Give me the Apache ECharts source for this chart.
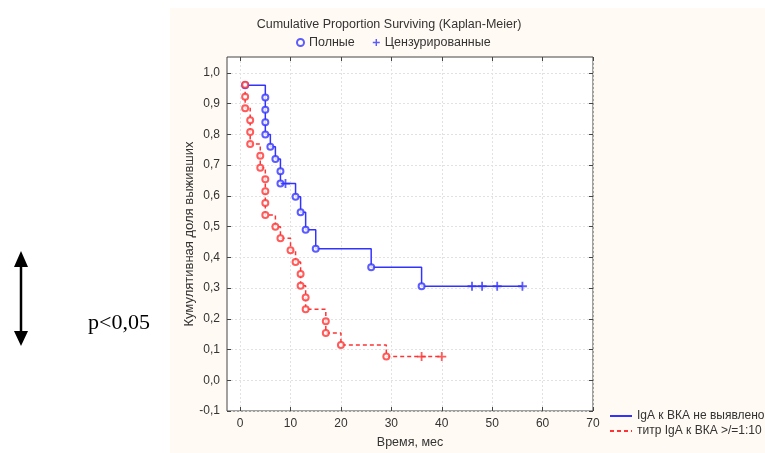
<!DOCTYPE html>
<html>
<head>
<meta charset="utf-8">
<title>Kaplan-Meier</title>
<script src="https://cdn.jsdelivr.net/npm/echarts@6/dist/echarts.min.js"></script>
<style>
    html, body { margin: 0; padding: 0; background: #fff; }
    #chart { width: 765px; height: 453px; }
</style>
</head>
<body>
<div id="chart"></div>
<script>
// группа 1: IgA к ВКА не выявлено (события и цензурированные)
const blueTimes = [1, 5, 5, 5, 5, 6, 7, 8, 8, 11, 12, 13, 15, 26, 36];
const blueSurv = [0.96, 0.92, 0.88, 0.84, 0.80, 0.76, 0.72, 0.68, 0.64, 0.597, 0.547, 0.49, 0.428, 0.368, 0.306];
const blueCensTimes = [9, 46, 48, 51, 56];
const blueCensSurv = [0.64, 0.306, 0.306, 0.306, 0.306];

// группа 2: титр IgA к ВКА >/=1:10
const redTimes = [1, 1, 1, 2, 2, 2, 4, 4, 5, 5, 5, 5, 7, 8, 10, 11, 12, 12, 13, 13, 17, 17, 20, 29];
const redSurv = [0.962, 0.923, 0.885, 0.846, 0.808, 0.769, 0.731, 0.692, 0.654, 0.615, 0.577, 0.538,
    0.5, 0.462, 0.423, 0.385, 0.346, 0.308, 0.269, 0.231, 0.192, 0.154, 0.115, 0.077];
const redCensTimes = [36, 40];
const redCensSurv = [0.077, 0.077];

// подписи осей
const xTicks = [0, 10, 20, 30, 40, 50, 60, 70];
const yTicks = [-0.1, 0, 0.1, 0.2, 0.3, 0.4, 0.5, 0.6, 0.7, 0.8, 0.9, 1.0];

const seriesNames = ['IgA к ВКА не выявлено', 'титр IgA к ВКА >/=1:10'];

const BLUE = '#3333ff';
const RED = '#ff3333';
const TEXT = '#333';
const FONT = 'Liberation Sans, Arial, sans-serif';
const PLUS = 'path://M4,0h2v4h4v2h-4v4h-2v-4h-4v-2h4z';

function pairs(xs, ys) {
    return xs.map((x, i) => [x, ys[i]]);
}

// ступенчатая линия: события + цензурированные по времени
function stepData(times, surv, censTimes, censSurv) {
    const pts = pairs(times, surv).concat(pairs(censTimes, censSurv));
    return pts
        .map((p, i) => ({ p: p, i: i }))
        .sort((a, b) => a.p[0] - b.p[0] || a.i - b.i)
        .map(o => o.p);
}

// деления внутрь, как в Statistica
function innerTicks(values) {
    return { show: true, inside: true, length: 4, customValues: values, lineStyle: { color: '#444' } };
}

function initializeChart() {
    const chartDom = document.getElementById('chart');
    const chart = echarts.init(chartDom, null, { renderer: 'canvas' });

    const gridLeft = 227, gridTop = 57, gridW = 366, gridH = 354;
    const gridLine = { show: true, lineStyle: { color: '#e2e2e2', type: [2, 2] } };

    const option = {
        animation: false,
        textStyle: { fontFamily: FONT },
        graphic: [
            {
                type: 'rect', z: -10, silent: true,
                shape: { x: 170, y: 8, width: 595, height: 445 },
                style: { fill: '#fffaf3' }
            },
            {
                type: 'text', x: 389, y: 25,
                style: { text: 'Cumulative Proportion Surviving (Kaplan-Meier)', fill: TEXT, font: '12.5px ' + FONT, align: 'center', verticalAlign: 'middle' }
            },
            {
                type: 'text', rotation: Math.PI / 2,
                x: 189, y: 234,
                style: { text: 'Кумулятивная доля выживших', fill: TEXT, font: '13px ' + FONT, align: 'center', verticalAlign: 'middle' }
            },
            {
                type: 'text', x: 410, y: 443,
                style: { text: 'Время, мес', fill: TEXT, font: '12.5px ' + FONT, align: 'center', verticalAlign: 'middle' }
            },
            // двусторонняя стрелка и подпись p
            {
                type: 'line',
                shape: { x1: 21, y1: 262, x2: 21, y2: 336 },
                style: { stroke: '#000', lineWidth: 2.5 }
            },
            {
                type: 'polygon',
                shape: { points: [[21, 251], [14, 267], [28, 267]] },
                style: { fill: '#000' }
            },
            {
                type: 'polygon',
                shape: { points: [[21, 346], [14, 331], [28, 331]] },
                style: { fill: '#000' }
            },
            {
                type: 'text', x: 88, y: 323,
                style: { text: 'p<0,05', fill: '#000', font: '22px Liberation Serif, Times New Roman, serif', verticalAlign: 'middle' }
            }
        ],
        legend: [
            {
                data: ['Полные', 'Цензурированные'],
                left: 291, top: 31,
                itemWidth: 7, itemHeight: 7, itemGap: 18,
                textStyle: { color: TEXT, fontSize: 12.5, fontFamily: FONT },
                selectedMode: false
            },
            {
                data: seriesNames,
                orient: 'vertical',
                left: 604, top: 405,
                itemWidth: 22, itemHeight: 10, itemGap: 3,
                itemStyle: { opacity: 0 },
                textStyle: { color: TEXT, fontSize: 12, fontFamily: FONT },
                selectedMode: false
            }
        ],
        grid: {
            left: gridLeft, top: gridTop, width: gridW, height: gridH,
            show: true, backgroundColor: '#fff', borderColor: '#444', borderWidth: 1
        },
        xAxis: [
            {
                type: 'value', min: -2.6, max: 70,
                axisLine: { show: false, onZero: false },
                axisTick: innerTicks(xTicks),
                axisLabel: { customValues: xTicks, color: TEXT, fontSize: 12, margin: 7 },
                splitLine: gridLine
            },
            {
                type: 'value', position: 'top', min: -2.6, max: 70,
                axisLine: { show: false, onZero: false },
                axisTick: innerTicks(xTicks),
                axisLabel: { show: false },
                splitLine: { show: false }
            }
        ],
        yAxis: [
            {
                type: 'value', min: -0.1, max: 1.052,
                axisLine: { show: false, onZero: false },
                axisTick: innerTicks(yTicks),
                axisLabel: {
                    customValues: yTicks, color: TEXT, fontSize: 12, margin: 7,
                    formatter: v => v.toFixed(1).replace('.', ',')
                },
                splitLine: gridLine
            },
            {
                type: 'value', position: 'right', min: -0.1, max: 1.052,
                axisLine: { show: false, onZero: false },
                axisTick: innerTicks(yTicks),
                axisLabel: { show: false },
                splitLine: { show: false }
            }
        ],
        series: [
            {
                name: seriesNames[0], type: 'line', step: 'end', symbol: 'none',
                data: stepData(blueTimes, blueSurv, blueCensTimes, blueCensSurv),
                lineStyle: { color: BLUE, width: 1.5 }, itemStyle: { color: BLUE }, z: 2
            },
            {
                name: seriesNames[1], type: 'line', step: 'end', symbol: 'none',
                data: stepData(redTimes, redSurv, redCensTimes, redCensSurv),
                lineStyle: { color: RED, width: 1.5, type: [4, 3] }, itemStyle: { color: RED }, z: 2
            },
            {
                name: 'Полные', type: 'scatter', symbol: 'emptyCircle', symbolSize: 6,
                data: pairs(blueTimes, blueSurv),
                itemStyle: { color: BLUE, borderColor: BLUE, borderWidth: 1.3 }, z: 3
            },
            {
                name: 'Цензурированные', type: 'scatter', symbol: PLUS, symbolSize: 9,
                data: pairs(blueCensTimes, blueCensSurv),
                itemStyle: { color: BLUE }, z: 3
            },
            {
                name: 'Полные', type: 'scatter', symbol: 'emptyCircle', symbolSize: 6,
                data: pairs(redTimes, redSurv),
                itemStyle: { color: RED, borderColor: RED, borderWidth: 1.3 }, z: 4
            },
            {
                name: 'Цензурированные', type: 'scatter', symbol: PLUS, symbolSize: 9,
                data: pairs(redCensTimes, redCensSurv),
                itemStyle: { color: RED }, z: 4
            }
        ]
    };

    chart.setOption(option);
}

document.addEventListener('DOMContentLoaded', initializeChart);
</script>
</body>
</html>
